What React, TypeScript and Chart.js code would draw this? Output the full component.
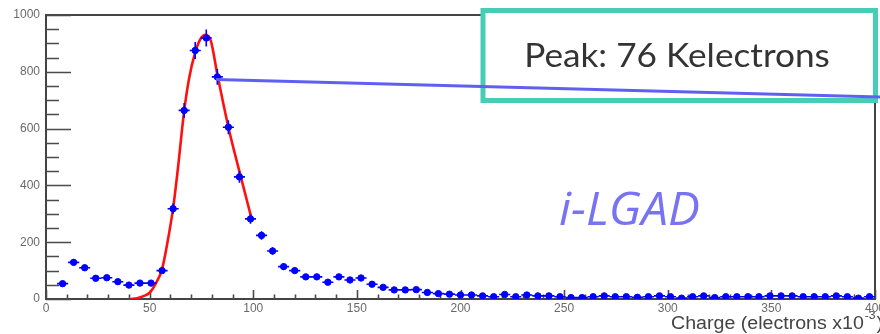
import React, { useEffect, useRef } from 'react';
import { Chart, registerables } from 'chart.js';

Chart.register(...registerables);

// ---- axis ranges / tick steps ----
const X_MIN = 0;
const X_MAX = 400;
const Y_MIN = 0;
const Y_MAX = 1000;
const X_MAJOR = 50;
const X_MINOR = 10;
const Y_MAJOR = 200;
const Y_MINOR = 50;

// ---- histogram: 75 bins from 0 to 400 (x10^3 electrons) ----
const N_BINS = 75;
const counts = [
  0, 54, 129, 110, 73, 75, 61, 49, 56, 56,
  100, 318, 664, 875, 919, 782, 605, 430, 282, 224,
  169, 114, 100, 78, 78, 59, 78, 67, 74, 52,
  41, 32, 32, 33, 23, 19, 17, 14, 14, 11,
  8, 16, 8, 14, 11, 11, 8, 5, 5, 8,
  11, 8, 8, 6, 8, 11, 8, 3, 8, 11,
  5, 8, 8, 8, 8, 11, 11, 11, 8, 8,
  8, 11, 8, 3, 8,
];

// ---- fit curve ----
const fitX = [40.8, 44, 47, 50, 53, 56, 58.5, 61.3, 63.5, 66.7, 69, 72, 74.5, 77, 79.5, 82.7, 85.5, 88, 91, 94, 97, 99.3];
const fitY = [0, 3, 10, 22, 55, 105, 195, 318, 450, 664, 775, 868, 915, 930, 910, 790, 690, 605, 515, 430, 345, 280];

// ---- annotation texts ----
const peakLabel = 'Peak: 76 Kelectrons';
const deviceLabel = 'i-LGAD';
const xTitleMain = 'Charge (electrons x10';
const xTitleSup = '-3';
const xTitleEnd = ')';
// pointer line (data coordinates)
const pointerFrom = { x: 82, y: 773 };
const pointerTo = { x: 404, y: 711 };

const binWidth = (X_MAX - X_MIN) / N_BINS;
const histPoints = counts
  .map((c, i) => ({ x: X_MIN + (i + 0.5) * binWidth, y: c }))
  .filter((p) => p.y > 0);
const fitPoints = fitX.map((x, i) => ({ x, y: fitY[i] }));

function stretchedText(ctx: any, text: string, x: number, y: number, sx: number, align: 'left' | 'center') {
  ctx.save();
  ctx.translate(x, y);
  ctx.scale(sx, 1);
  ctx.textAlign = align;
  ctx.fillText(text, 0, 0);
  const w = ctx.measureText(text).width * sx;
  ctx.restore();
  return w;
}

const decorPlugin = {
  id: 'rootDecor',
  beforeDatasetsDraw(chart: any) {
    const { ctx, chartArea: a, scales } = chart;
    const xs = scales.x;
    const ys = scales.y;
    ctx.save();
    ctx.strokeStyle = '#444';
    ctx.lineWidth = 2;
    ctx.beginPath();
    ctx.moveTo(a.left, a.top);
    ctx.lineTo(a.right, a.top);
    ctx.lineTo(a.right, a.bottom);
    ctx.stroke();
    ctx.lineWidth = 1.6;
    ctx.strokeStyle = '#4a4a4a';
    ctx.beginPath();
    for (let v = Y_MIN; v <= Y_MAX; v += Y_MINOR) {
      const py = Math.round(ys.getPixelForValue(v)) + 0.5;
      const len = v % Y_MAJOR === 0 ? 25 : 13;
      ctx.moveTo(a.left, py);
      ctx.lineTo(a.left + len, py);
    }
    for (let v = X_MIN; v <= X_MAX; v += X_MINOR) {
      const px = Math.round(xs.getPixelForValue(v)) + 0.5;
      const len = v % X_MAJOR === 0 ? 9 : 4.5;
      ctx.moveTo(px, a.bottom);
      ctx.lineTo(px, a.bottom - len);
    }
    ctx.stroke();
    ctx.restore();
  },
  afterDatasetsDraw(chart: any) {
    const { ctx, scales } = chart;
    const xs = scales.x;
    const ys = scales.y;
    ctx.save();
    ctx.strokeStyle = '#0000ff';
    ctx.lineWidth = 1.6;
    ctx.beginPath();
    histPoints.forEach((p) => {
      const cx = xs.getPixelForValue(p.x);
      const cy = ys.getPixelForValue(p.y);
      const err = Math.sqrt(p.y);
      ctx.moveTo(xs.getPixelForValue(p.x - binWidth / 2), cy);
      ctx.lineTo(xs.getPixelForValue(p.x + binWidth / 2), cy);
      ctx.moveTo(cx, ys.getPixelForValue(p.y - err));
      ctx.lineTo(cx, ys.getPixelForValue(p.y + err));
    });
    ctx.stroke();
    ctx.restore();
  },
  afterDraw(chart: any) {
    const { ctx, scales } = chart;
    const xs = scales.x;
    const ys = scales.y;
    ctx.save();
    ctx.textBaseline = 'alphabetic';
    // device label
    ctx.font = 'italic 45px "Open Sans", sans-serif';
    ctx.fillStyle = '#7773f3';
    stretchedText(ctx, deviceLabel, 559, 225, 1.06, 'left');

    // peak box
    ctx.fillStyle = '#ffffff';
    ctx.fillRect(483, 10.5, 392.5, 90);
    ctx.strokeStyle = '#47cdb6';
    ctx.lineWidth = 5;
    ctx.strokeRect(483, 10.5, 392.5, 90);
    ctx.fillStyle = '#333333';
    ctx.font = '32px Lato, "Open Sans", sans-serif';
    stretchedText(ctx, peakLabel, 677, 67, 1.1, 'center');

    // pointer line
    ctx.strokeStyle = '#5f5ff4';
    ctx.lineWidth = 3;
    ctx.beginPath();
    ctx.moveTo(xs.getPixelForValue(pointerFrom.x), ys.getPixelForValue(pointerFrom.y));
    ctx.lineTo(xs.getPixelForValue(pointerTo.x), ys.getPixelForValue(pointerTo.y));
    ctx.stroke();

    // x axis title (clipped at the edge like the original)
    ctx.fillStyle = '#444';
    const tx = 671;
    const ty = 329;
    ctx.font = '17.5px "Liberation Sans", Arial, sans-serif';
    const w1 = stretchedText(ctx, xTitleMain, tx, ty, 1.12, 'left');
    ctx.font = '11px "Liberation Sans", Arial, sans-serif';
    const w2 = stretchedText(ctx, xTitleSup, tx + w1 + 1, ty - 10, 1.1, 'left');
    ctx.font = '17.5px "Liberation Sans", Arial, sans-serif';
    stretchedText(ctx, xTitleEnd, tx + w1 + w2 + 2, ty, 1.12, 'left');
    ctx.restore();
  },
};

export default function App() {
  const ref = useRef<HTMLCanvasElement>(null);
  useEffect(() => {
    const canvas = ref.current;
    if (!canvas) return;
    const chart = new Chart(canvas, {
      type: 'scatter',
      data: {
        datasets: [
          {
            label: 'data',
            data: histPoints,
            backgroundColor: '#0000ff',
            borderColor: '#0000ff',
            pointRadius: 3.2,
            pointStyle: 'circle',
            showLine: false,
          },
          {
            label: 'fit',
            data: fitPoints,
            borderColor: '#ff1010',
            borderWidth: 2.6,
            pointRadius: 0,
            showLine: true,
            tension: 0.4,
            cubicInterpolationMode: 'monotone',
          } as any,
        ],
      },
      options: {
        animation: false,
        responsive: false,
        devicePixelRatio: 1,
        layout: { padding: { left: 0, top: 15, right: 4, bottom: 0 } },
        plugins: { legend: { display: false }, tooltip: { enabled: false } },
        scales: {
          x: {
            type: 'linear',
            min: X_MIN,
            max: X_MAX,
            grid: { display: false, drawTicks: false, tickLength: 0 },
            border: { display: true, color: '#444', width: 2 },
            ticks: {
              stepSize: X_MAJOR,
              autoSkip: false,
              maxRotation: 0,
              padding: 2,
              color: '#6a6a6a',
              font: { family: '"Liberation Sans", Arial, sans-serif', size: 12 },
              callback: (v: any) => String(v),
            },
            afterFit: (s: any) => {
              s.height = 35;
              s.paddingLeft = 0;
              s.paddingRight = 0;
            },
          },
          y: {
            type: 'linear',
            min: Y_MIN,
            max: Y_MAX,
            grid: { display: false, drawTicks: false, tickLength: 0 },
            border: { display: true, color: '#444', width: 2 },
            ticks: {
              stepSize: Y_MAJOR,
              autoSkip: false,
              padding: 6,
              color: '#6a6a6a',
              font: { family: '"Liberation Sans", Arial, sans-serif', size: 12 },
              callback: (v: any) => String(v),
            },
            afterFit: (s: any) => {
              s.width = 46;
            },
          },
        },
      },
      plugins: [decorPlugin],
    });
    return () => chart.destroy();
  }, []);
  return (
    <div style={{ position: 'absolute', left: 0, top: 0, width: 880, height: 334, background: '#fff', overflow: 'hidden' }}>
      <canvas ref={ref} width={880} height={334} style={{ display: 'block' }} />
    </div>
  );
}
